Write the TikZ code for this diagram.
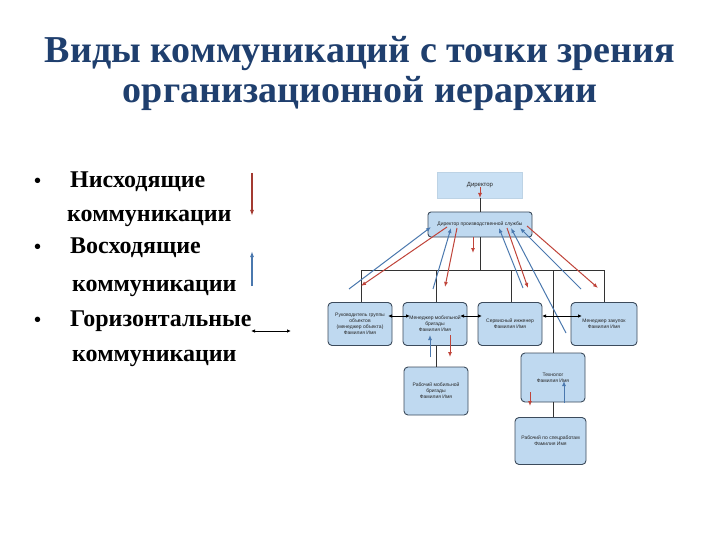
\documentclass[tikz,border=0pt]{standalone}
\usepackage{fontspec}
\setmainfont{Liberation Serif}
\newfontfamily\boxfont{Liberation Sans}
\usetikzlibrary{arrows.meta}
\definecolor{titleblue}{HTML}{1F3F6E}
\definecolor{boxfill}{HTML}{BFD9F0}
\definecolor{dirfill}{HTML}{C9E0F4}
\definecolor{boxline}{HTML}{3C4B5C}
\definecolor{redarr}{HTML}{C0443A}
\definecolor{bluearr}{HTML}{4A78AE}
\tikzset{
  orgbox/.style={draw=boxline, line width=0.9pt, fill=boxfill, rounded corners=4pt,
    minimum width=64pt, minimum height=43pt, inner sep=1pt, align=center,
    font=\boxfont\fontsize{5}{6}\selectfont, text=black!85},
  bullettext/.style={anchor=base west, font=\fontsize{24}{28}\selectfont\bfseries, inner sep=0pt},
  bulletdot/.style={anchor=base west, font=\fontsize{20}{24}\selectfont\bfseries, inner sep=0pt},
  tree/.style={draw=black!80, line width=0.6pt},
  downarr/.style={draw=redarr, line width=1pt, -{Latex[length=5pt,width=4pt]}},
  uparr/.style={draw=bluearr, line width=1pt, -{Latex[length=5pt,width=4pt]}},
  horarr/.style={draw=black, line width=0.8pt, {Latex[length=4pt,width=3.5pt]}-{Latex[length=4pt,width=3.5pt]}}
}
\begin{document}
\begin{tikzpicture}[x=1pt,y=-1pt]
\useasboundingbox[fill=white] (0,0) rectangle (720,540);

% title
\node[font=\fontsize{38}{40}\selectfont\bfseries, text=titleblue, align=center] (title) at (360,73)
  {Виды коммуникаций с точки зрения\\организационной иерархии};

% bullet list
\node[bulletdot] (bu1) at (34,188) {•};
\node[bullettext] (t1) at (70,188) {Нисходящие};
\node[bullettext] (t2) at (67,222) {коммуникации};
\node[bulletdot] (bu2) at (34,254) {•};
\node[bullettext] (t3) at (70,254) {Восходящие};
\node[bullettext] (t4) at (72,291) {коммуникации};
\node[bulletdot] (bu3) at (34,326) {•};
\node[bullettext] (t5) at (70,326) {Горизонтальные};
\node[bullettext] (t6) at (72,361) {коммуникации};

% legend arrows
\coordinate (la1) at (252,173); \coordinate (la2) at (252,216);
\coordinate (lb1) at (252,286); \coordinate (lb2) at (252,251);
\coordinate (lc1) at (251,331); \coordinate (lc2) at (291,331);
\draw[draw=redarr!85!black, line width=1.2pt, -{Latex[length=6pt,width=4pt]}] (la1) -- (la2);
\draw[draw=bluearr, line width=1.2pt, -{Latex[length=6pt,width=4pt]}] (lb1) -- (lb2);
\draw[horarr] (lc1) -- (lc2);

% org chart nodes
\node[fill=dirfill, draw=dirfill!80!black!30!dirfill, minimum width=85pt, minimum height=26pt,
  font=\boxfont\fontsize{6}{7}\selectfont, text=black!85] (dir) at (480,185) {Директор};
\node[orgbox, minimum width=104pt, minimum height=25pt, rounded corners=3pt] (dep) at (480,224.5)
  {Директор производственной службы};
\node[orgbox] (b1) at (360,324) {Руководитель группы\\объектов\\(менеджер объекта)\\Фамилия Имя};
\node[orgbox] (b2) at (435,324) {Менеджер мобильной\\бригады\\Фамилия Имя};
\node[orgbox] (b3) at (510,324) {Сервисный инженер\\Фамилия Имя};
\node[orgbox, minimum width=66pt] (b4) at (604,324) {Менеджер закупок\\Фамилия Имя};
\node[orgbox, minimum height=48pt] (w1) at (436,391) {Рабочий мобильной\\бригады\\Фамилия Имя};
\node[orgbox, minimum height=49pt] (tech) at (553,377.5) {Технолог\\Фамилия Имя};
\node[orgbox, minimum width=71pt, minimum height=47pt] (w2) at (550.5,441) {Рабочий по спецработам\\Фамилия Имя};

% tree lines
\coordinate (busL) at (361,270); \coordinate (busR) at (604,270);
\coordinate (bus2) at (436,270); \coordinate (bus3) at (511,270); \coordinate (bus4) at (553,270);
\coordinate (busM) at (480,270);
\draw[tree] (dir.south) -- (dep.north);
\draw[tree] (dep.south) -- (busM);
\draw[tree] (busL) -- (busR);
\draw[tree] (busL) -- (b1.north -| busL);
\draw[tree] (bus2) -- (b2.north -| bus2);
\draw[tree] (bus3) -- (b3.north -| bus3);
\draw[tree] (bus4) -- (tech.north);
\draw[tree] (busR) -- (b4.north);
\draw[tree] (b2.south -| bus2) -- (w1.north -| bus2);
\draw[tree] (tech.south) -- (w2.north -| tech.south);

% downward (red) arrows
\coordinate (r0a) at (480,187); \coordinate (r0b) at (480,198);
\coordinate (r1a) at (447,227); \coordinate (r1b) at (361,286);
\coordinate (r2a) at (457,228); \coordinate (r2b) at (445,287);
\coordinate (r3a) at (473,237); \coordinate (r3b) at (473,253);
\coordinate (r4a) at (507,228); \coordinate (r4b) at (528,288);
\coordinate (r5a) at (527,226); \coordinate (r5b) at (598,288);
\coordinate (r6a) at (450,335); \coordinate (r6b) at (450,357);
\coordinate (r7a) at (530,392); \coordinate (r7b) at (530,406);
\draw[downarr] (r0a) -- (r0b);
\draw[downarr] (r1a) -- (r1b);
\draw[downarr] (r2a) -- (r2b);
\draw[downarr] (r3a) -- (r3b);
\draw[downarr] (r4a) -- (r4b);
\draw[downarr] (r5a) -- (r5b);
\draw[downarr] (r6a) -- (r6b);
\draw[downarr] (r7a) -- (r7b);

% upward (blue) arrows
\coordinate (u1a) at (349,289); \coordinate (u1b) at (431,227);
\coordinate (u2a) at (433,289); \coordinate (u2b) at (451,228);
\coordinate (u3a) at (523,288); \coordinate (u3b) at (499,228);
\coordinate (u4a) at (566,333); \coordinate (u4b) at (511,228);
\coordinate (u5a) at (581,289); \coordinate (u5b) at (520,228);
\coordinate (u6a) at (430,357); \coordinate (u6b) at (430,335);
\coordinate (u7a) at (564,403); \coordinate (u7b) at (564,381);
\draw[uparr] (u1a) -- (u1b);
\draw[uparr] (u2a) -- (u2b);
\draw[uparr] (u3a) -- (u3b);
\draw[uparr] (u4a) -- (u4b);
\draw[uparr] (u5a) -- (u5b);
\draw[uparr] (u6a) -- (u6b);
\draw[uparr] (u7a) -- (u7b);

% horizontal (black) arrows
\coordinate (h1a) at (388,316); \coordinate (h1b) at (410,316);
\coordinate (h2a) at (460,316); \coordinate (h2b) at (482,316);
\coordinate (h3a) at (542,316); \coordinate (h3b) at (582,316);
\draw[horarr] (h1a) -- (h1b);
\draw[horarr] (h2a) -- (h2b);
\draw[horarr] (h3a) -- (h3b);
\end{tikzpicture}
\end{document}
